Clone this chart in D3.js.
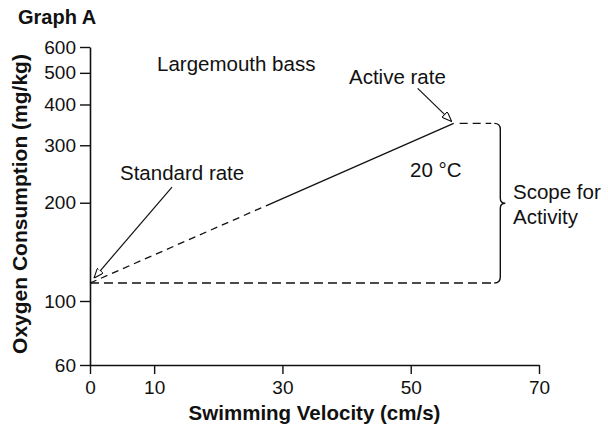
<!DOCTYPE html>
<html><head><meta charset="utf-8">
<script src="https://cdn.jsdelivr.net/npm/d3@7"></script>
<style>
body{margin:0;background:#fff}
svg{display:block}
text{font-family:"Liberation Sans",Arial,Helvetica,sans-serif;fill:#111}
</style>
</head><body><svg id="c" width="608" height="430"></svg>
<script>
// ---- data ----
const velocityTicks = [0, 10, 30, 50, 70];
const oxygenTicks = [60, 100, 200, 300, 400, 500, 600];
const velocity = [0, 56.7];          // cm/s : standard rate point, active rate point
const oxygen = [113.5, 350];         // mg/kg
const solidFromVelocity = 27.7;      // line is dashed below this speed, solid above
const scopeVelocity = 63.5;          // where the "scope" brace sits
const labels = {
  title: "Graph A",
  species: "Largemouth bass",
  active: "Active rate",
  standard: "Standard rate",
  temp: "20 °C",
  scope: ["Scope for", "Activity"],
  xTitle: "Swimming Velocity (cm/s)",
  yTitle: "Oxygen Consumption (mg/kg)"
};

// ---- scales ----
const svg = d3.select("#c");
const x = d3.scaleLinear().domain([0, 70]).range([90, 539]);
const y = d3.scaleLog().domain([60, 100, 600]).range([365, 301, 47]);

const ink = "#111";

// ---- axes ----
const gy = svg.append("g").attr("transform", `translate(${x(0)},0)`)
  .call(d3.axisLeft(y).tickValues(oxygenTicks).tickFormat(d3.format("d"))
        .tickSize(10).tickPadding(4).tickSizeOuter(0));
const gx = svg.append("g").attr("transform", `translate(0,${y(60)})`)
  .call(d3.axisBottom(x).tickValues(velocityTicks).tickFormat(d3.format("d"))
        .tickSize(9).tickPadding(7).tickSizeOuter(0));
[gx, gy].forEach(g => {
  g.select(".domain").attr("stroke", ink).attr("stroke-width", 1.6);
  g.selectAll(".tick line").attr("stroke", ink).attr("stroke-width", 1.4);
  g.selectAll(".tick text").attr("font-size", 19).attr("fill", ink)
    .attr("font-family", '"Liberation Sans",Arial,sans-serif');
});

// ---- data line ----
const pts = velocity.map((v, i) => [x(v), y(oxygen[i])]);
const line = d3.line();
const path = svg.append("path").attr("d", line(pts))
  .attr("fill", "none").attr("stroke", ink).attr("stroke-width", 1.3);
const total = path.node().getTotalLength();
const dashedLen = total * (x(solidFromVelocity) - x(velocity[0])) / (x(velocity[1]) - x(velocity[0]));
const dashes = [];
let acc = 0;
while (acc + 11 < dashedLen) { dashes.push(7, 5); acc += 12; }
dashes.push(dashedLen - acc, 0, total, 0);
path.attr("stroke-dasharray", dashes.join(" "));

// ---- horizontal dashed guide lines ----
const bx = x(scopeVelocity);
svg.append("line")
  .attr("x1", x(0)).attr("x2", bx - 4)
  .attr("y1", y(oxygen[0])).attr("y2", y(oxygen[0]))
  .attr("stroke", ink).attr("stroke-width", 1.4).attr("stroke-dasharray", "9 5");
svg.append("line")
  .attr("x1", x(velocity[1]) + 6).attr("x2", bx - 6)
  .attr("y1", y(oxygen[1])).attr("y2", y(oxygen[1]))
  .attr("stroke", ink).attr("stroke-width", 1.4).attr("stroke-dasharray", "8 5");

// ---- brace ----
const yt = y(oxygen[1]), yb = y(oxygen[0]), ym = (yt + yb) / 2;
const bxx = bx + 3;
const brace = `M${bxx - 6},${yt} Q${bxx},${yt} ${bxx},${yt + 6}
  L${bxx},${ym - 5} Q${bxx},${ym} ${bxx + 5},${ym} Q${bxx},${ym} ${bxx},${ym + 5}
  L${bxx},${yb - 6} Q${bxx},${yb} ${bxx - 6},${yb}`;
svg.append("path").attr("d", brace).attr("fill", "none")
  .attr("stroke", ink).attr("stroke-width", 1.4);

// ---- arrows ----
svg.append("defs").append("marker").attr("id", "ah")
  .attr("viewBox", "0 0 10 8").attr("refX", 10).attr("refY", 4)
  .attr("markerWidth", 10).attr("markerHeight", 8).attr("markerUnits", "userSpaceOnUse")
  .attr("orient", "auto")
  .append("path").attr("d", "M0,0 L10,4 L0,8 Z")
  .attr("fill", "#fff").attr("stroke", ink).attr("stroke-width", 1.1);

const arrow = (x1, y1, x2, y2) => svg.append("line")
  .attr("x1", x1).attr("y1", y1).attr("x2", x2).attr("y2", y2)
  .attr("stroke", ink).attr("stroke-width", 1.2).attr("marker-end", "url(#ah)");
// Standard rate arrow
arrow(pts[0][0] + 82, pts[0][1] - 96, pts[0][0] + 4, pts[0][1] - 5);
// Active rate arrow
arrow(pts[1][0] - 36, pts[1][1] - 35, pts[1][0] - 2, pts[1][1] - 2);

// ---- text ----
const txt = (s, tx, ty, opts = {}) => svg.append("text").text(s)
  .attr("x", tx).attr("y", ty)
  .attr("font-size", opts.size || 20.5)
  .attr("font-weight", opts.weight || "normal")
  .attr("text-anchor", opts.anchor || "start")
  .attr("fill", ink);

txt(labels.title, 18, 24, {size: 20, weight: "bold"});
txt(labels.species, 157, 71);
txt(labels.active, 349, 84);
txt(labels.standard, 120, 180);
txt(labels.temp, 410, 177);
txt(labels.scope[0], 513, 199);
txt(labels.scope[1], 513, 224);

txt(labels.xTitle, (x(0) + x(70)) / 2 + 0, 420, {size: 20.5, weight: "bold", anchor: "middle"});

svg.append("text").text(labels.yTitle)
  .attr("transform", `translate(27,${(y(600) + y(60)) / 2 - 2}) rotate(-90)`)
  .attr("text-anchor", "middle").attr("font-size", 21).attr("font-weight", "bold")
  .attr("fill", ink);
</script>
</body></html>
